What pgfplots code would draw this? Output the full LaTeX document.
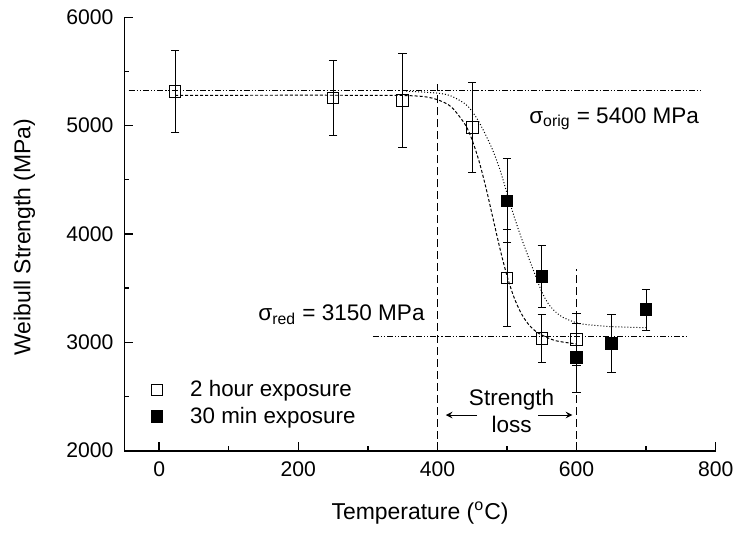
\documentclass[border=0pt]{standalone}
\usepackage{fontspec}
\setmainfont{Liberation Sans}
\usepackage{pgfplots}
\pgfplotsset{compat=1.18}
\begin{document}
\begin{tikzpicture}
\begin{axis}[
  scale only axis, width=296.3pt, height=217.2pt,
  xmin=-50, xmax=800, ymin=2000, ymax=6000,
  axis x line=bottom, axis y line=left, axis line style={-, line width=0.9pt},
  xtick={0,200,400,600,800}, ytick={2000,3000,4000,5000,6000},
  minor x tick num=1, minor y tick num=1,
  tick align=inside, major tick length=4.5pt, minor tick length=2.5pt,
  tick style={black, line width=0.7pt},
  /pgf/number format/assume math mode=true,
  /pgf/number format/set thousands separator={},
  ticklabel style={font=\fontsize{10.6}{12}\selectfont},
  xticklabel style={yshift=-2pt},
  yticklabel style={xshift=-2pt},
  xlabel={Temperature (\textsuperscript{o}C)},
  ylabel={Weibull Strength (MPa)},
  label style={font=\fontsize{11.5}{13}\selectfont},
  xlabel style={at={(axis description cs:0.5,-0.1588)}, anchor=base},
  ylabel style={at={(axis description cs:-0.169,0.493)}, anchor=center},
  clip=false,
  legend style={at={(axis description cs:0.0447,0.1093)}, anchor=west, draw=none, fill=none,
    font=\fontsize{11.2}{13}\selectfont, row sep=0.85pt, column sep=0pt, inner sep=0pt,
    nodes={inner ysep=1.5pt, inner xsep=1pt}},
  legend cell align=left,
  legend image code/.code={\draw[#1] plot coordinates {(0pt,0pt)}; \path[draw=none, fill=none] (-2.9pt,0pt) -- (15.65pt,0pt);},
]
% bounding box filler
\path[draw=none] (rel axis cs:-0.2104,1.0398) -- (rel axis cs:1.0383,-0.1941);
% reference lines
\addplot[forget plot, black, line width=0.5pt, dash pattern=on 3pt off 1pt on 0.6pt off 1pt on 0.6pt off 1pt] coordinates {(-44,5321) (780,5321)};
\addplot[forget plot, black, line width=0.5pt, dash pattern=on 3pt off 1pt on 0.6pt off 1pt on 0.6pt off 1pt] coordinates {(307,3056) (758,3056)};
\addplot[forget plot, black, line width=0.6pt, dash pattern=on 4pt off 2pt] coordinates {(400,2000) (400,5383)};
\addplot[forget plot, black, line width=0.6pt, dash pattern=on 4pt off 2pt] coordinates {(600,2000) (600,3680)};
% fit curves
\addplot[forget plot, black, line width=0.5pt, dash pattern=on 1.5pt off 1pt, smooth] coordinates {
(23,5280) (300,5280) (350,5278) (380,5268) (400,5239) (420,5172) (440,5008) (450,4864) (460,4667) (470,4419) (480,4140) (490,3861) (500,3613) (510,3416) (520,3272) (530,3173) (540,3108) (550,3067) (570,3015) (600,2985)};
\addplot[forget plot, black, line width=0.5pt, dash pattern=on 0.5pt off 1pt, smooth] coordinates {
(355,5318) (400,5300) (420,5272) (440,5200) (450,5130) (460,5030) (470,4905) (480,4765) (490,4590) (500,4375) (510,4165) (520,3975) (530,3800) (540,3630) (550,3465) (560,3350) (570,3280) (580,3232) (600,3180) (620,3160) (650,3145) (700,3135)};
% data
\addplot[only marks, mark=square, mark size=2.9pt, black, mark options={fill=white, line width=0.5pt},
  error bars/.cd, y dir=both, y explicit, error bar style={line width=0.5pt},
  error mark options={rotate=90, mark size=2.1pt, line width=0.5pt}]
coordinates {
(23,5315) +- (0,377)
(250,5254) +- (0,344)
(350,5232) +- (0,435)
(450,4983) +- (0,413)
(500,3595) +- (0,445)
(550,3035) +- (0,225)
(600,3027) +- (0,237)
};
\addlegendentry{2 hour exposure}
\addplot[only marks, mark=square*, mark size=2.9pt, black, mark options={fill=black, line width=0.5pt},
  error bars/.cd, y dir=both, y explicit, error bar style={line width=0.5pt},
  error mark options={rotate=90, mark size=2.1pt, line width=0.5pt}]
coordinates {
(500,4306) +- (0,388)
(550,3606) +- (0,287)
(600,2858) +- (0,320)
(650,2989) +- (0,272)
(700,3302) +- (0,190)
};
\addlegendentry{30 min exposure}
% annotations
\node[anchor=base west, inner sep=0pt, font=\fontsize{11.3}{13}\selectfont] at (axis cs:531.5,5024) {σ\textsubscript{orig} = 5400 MPa};
\node[anchor=base west, inner sep=0pt, font=\fontsize{11.3}{13}\selectfont] at (axis cs:142,3197) {σ\textsubscript{red} = 3150 MPa};
\node[anchor=base, inner sep=0pt, font=\fontsize{11.3}{13}\selectfont] at (axis cs:506.6,2414) {Strength};
\node[anchor=base, inner sep=0pt, font=\fontsize{11.3}{13}\selectfont] at (axis cs:506.6,2169) {loss};
\draw[-stealth, line width=0.5pt] (axis cs:457,2329) -- (axis cs:412,2329);
\draw[-stealth, line width=0.5pt] (axis cs:545,2329) -- (axis cs:594,2329);
\end{axis}
\end{tikzpicture}
\end{document}
